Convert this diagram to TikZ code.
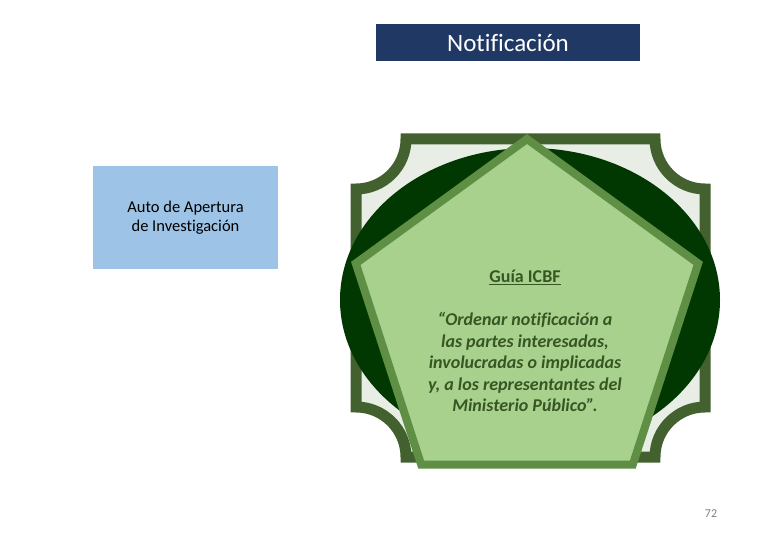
\documentclass[tikz,border=0pt]{standalone}
\usepackage{fontspec}
\setmainfont{Carlito}[Ligatures=NoCommon]
\usetikzlibrary{shapes.geometric}
\definecolor{navy}{HTML}{1F3864}
\definecolor{skyblue}{HTML}{9DC3E6}
\definecolor{plaque}{HTML}{E8EEE5}
\definecolor{frame}{HTML}{42612E}
\definecolor{deepgreen}{HTML}{013801}
\definecolor{leaf}{HTML}{A9D18E}
\definecolor{leafedge}{HTML}{5F8F45}
\definecolor{darkleaf}{HTML}{375623}

\begin{document}
\begin{tikzpicture}[x=1pt,y=-1pt,
	titlebox/.style={fill=navy,text=white,minimum width=264pt,minimum height=37pt,inner sep=0pt,font=\fontsize{25}{29}\selectfont},
	bluebox/.style={fill=skyblue,minimum width=185pt,minimum height=103pt,inner sep=0pt,align=center,font=\fontsize{16.5}{19.5}\selectfont},
	pentabox/.style={regular polygon,regular polygon sides=5,minimum size=360pt,inner sep=0pt,fill=leaf,draw=leafedge,line width=8pt},
	guiatext/.style={align=center,text=darkleaf,font=\fontsize{18}{21.5}\selectfont\bfseries}]
	\useasboundingbox (0,0) rectangle (780,540);
	\node[titlebox] (notif) at (508,42.5) {Notificación};
	\node[bluebox] (auto) at (185.5,217.5) {Auto de Apertura\\de Investigación};
	\filldraw[fill=plaque,draw=frame,line width=11pt] (406,139) -- (655,139) arc[start angle=180,end angle=90,radius=50] -- (705,407) arc[start angle=270,end angle=180,radius=50] -- (406,457) arc[start angle=0,end angle=-90,radius=50] -- (356,189) arc[start angle=90,end angle=0,radius=50] -- cycle;
	\fill[deepgreen] (530,300) ellipse[x radius=190,y radius=152];
	\node[pentabox] (guia) at (527,319) {};
	\node[guiatext] (cita) at (525,341) {\underline{Guía ICBF}\\[21.5pt]\itshape “Ordenar notificación a\\\itshape las partes interesadas,\\\itshape involucradas o implicadas\\\itshape y, a los representantes del\\\itshape Ministerio Público”.};
	\node[text=gray,font=\fontsize{12}{14}\selectfont] (pag) at (711,514) {72};
\end{tikzpicture}
\end{document}
